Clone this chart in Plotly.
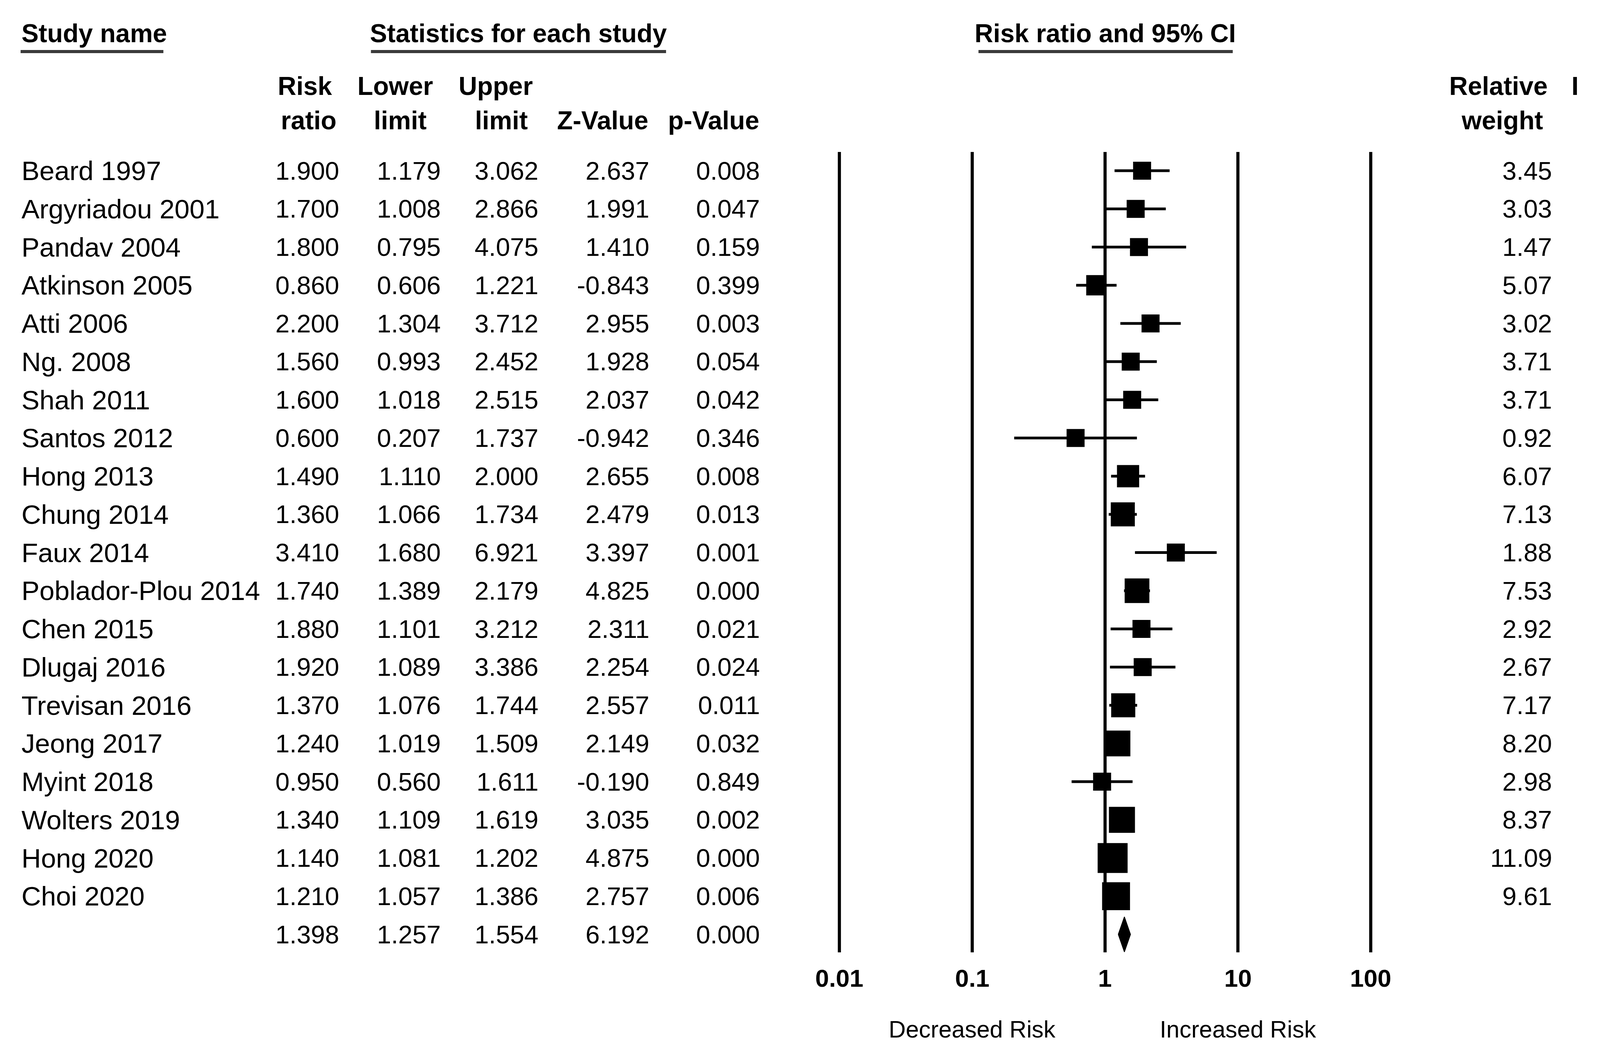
import numpy as np
import plotly.graph_objects as go

# ---------------- data ----------------
studies = ["Beard 1997", "Argyriadou 2001", "Pandav 2004", "Atkinson 2005", "Atti 2006",
           "Ng. 2008", "Shah 2011", "Santos 2012", "Hong 2013", "Chung 2014", "Faux 2014",
           "Poblador-Plou 2014", "Chen 2015", "Dlugaj 2016", "Trevisan 2016", "Jeong 2017",
           "Myint 2018", "Wolters 2019", "Hong 2020", "Choi 2020"]
risk_ratio = [1.900, 1.700, 1.800, 0.860, 2.200, 1.560, 1.600, 0.600, 1.490, 1.360, 3.410,
              1.740, 1.880, 1.920, 1.370, 1.240, 0.950, 1.340, 1.140, 1.210]
lower_limit = [1.179, 1.008, 0.795, 0.606, 1.304, 0.993, 1.018, 0.207, 1.110, 1.066, 1.680,
               1.389, 1.101, 1.089, 1.076, 1.019, 0.560, 1.109, 1.081, 1.057]
upper_limit = [3.062, 2.866, 4.075, 1.221, 3.712, 2.452, 2.515, 1.737, 2.000, 1.734, 6.921,
               2.179, 3.212, 3.386, 1.744, 1.509, 1.611, 1.619, 1.202, 1.386]
z_value = [2.637, 1.991, 1.410, -0.843, 2.955, 1.928, 2.037, -0.942, 2.655, 2.479, 3.397,
           4.825, 2.311, 2.254, 2.557, 2.149, -0.190, 3.035, 4.875, 2.757]
p_value = [0.008, 0.047, 0.159, 0.399, 0.003, 0.054, 0.042, 0.346, 0.008, 0.013, 0.001,
           0.000, 0.021, 0.024, 0.011, 0.032, 0.849, 0.002, 0.000, 0.006]
rel_weight = [3.45, 3.03, 1.47, 5.07, 3.02, 3.71, 3.71, 0.92, 6.07, 7.13, 1.88,
              7.53, 2.92, 2.67, 7.17, 8.20, 2.98, 8.37, 11.09, 9.61]

summary_rr = 1.398
summary_lower = 1.257
summary_upper = 1.554
summary_z = 6.192
summary_p = 0.000

tick_values = [0.01, 0.1, 1, 10, 100]
tick_labels = ["0.01", "0.1", "1", "10", "100"]

# ---------------- layout geometry (reference-picture pixels) ----------------
W, H = 4348, 2711
S = 0.96                            # size factor for px-sized items (fonts, markers)
ROW0, ROWH = 437.0, 97.75           # pixel centre of first row, row pitch
ONE_PX, DECADE_PX = 3003.0, 361.0   # pixel position of RR=1, pixels per decade
FONT = "Liberation Sans, Arial, Helvetica, sans-serif"
FS_NAME, FS_NUM, FS_HEAD, FS_TICK, FS_NOTE = 72, 68, 68.5, 66, 63


def row_of(py):
    return (py - ROW0) / ROWH


def pxx(x):
    return x / W


n = len(studies)
rows = list(range(n))
summary_row = n

fig = go.Figure()

# confidence-interval whiskers
ci_x, ci_y = [], []
for i in rows:
    ci_x += [lower_limit[i], upper_limit[i], None]
    ci_y += [i, i, None]
fig.add_trace(go.Scatter(x=ci_x, y=ci_y, mode="lines",
                         line=dict(color="black", width=7), hoverinfo="skip",
                         showlegend=False))

# weighted squares
sizes = [S * max(48.0, 24.0 * np.sqrt(w)) for w in rel_weight]
fig.add_trace(go.Scatter(x=risk_ratio, y=rows, mode="markers",
                         marker=dict(symbol="square", size=sizes, color="black",
                                     opacity=1, line=dict(width=0)),
                         showlegend=False))

# summary diamond
dh = 0.46
fig.add_trace(go.Scatter(
    x=[summary_lower, summary_rr, summary_upper, summary_rr, summary_lower],
    y=[summary_row, summary_row - dh, summary_row, summary_row + dh, summary_row],
    mode="lines", fill="toself", fillcolor="black",
    line=dict(color="black", width=2), showlegend=False))

# vertical reference lines
shapes = []
for t in tick_values:
    shapes.append(dict(type="line", xref="x", yref="y", x0=t, x1=t,
                       y0=row_of(389), y1=row_of(2438), layer="below",
                       line=dict(color="black", width=8)))

# header underlines
for x0, x1 in [(56, 444), (1008, 1810), (2659, 3350)]:
    shapes.append(dict(type="line", xref="paper", yref="y", x0=pxx(x0), x1=pxx(x1),
                       y0=row_of(132), y1=row_of(132),
                       line=dict(color="#3a3a3a", width=8)))

ann = []


def add_text(text, x, y, xanchor="center", size=FS_NAME, bold=False, xref="paper"):
    ann.append(dict(text=("<b>%s</b>" % text) if bold else text,
                    x=x, y=y, xref=xref, yref="y", xanchor=xanchor, yanchor="middle",
                    showarrow=False, font=dict(family=FONT, size=S * size, color="black")))


# headers
add_text("Study name", pxx(56), row_of(85), "left", FS_HEAD, bold=True)
add_text("Statistics for each study", pxx(1409), row_of(85), "center", FS_HEAD, bold=True)
add_text("Risk ratio and 95% CI", pxx(3004), row_of(85), "center", FS_HEAD, bold=True)

for txt, cx in [("Risk", 828), ("Lower", 1074), ("Upper", 1347), ("Relative", 4072)]:
    add_text(txt, pxx(cx), row_of(220), "center", FS_HEAD, bold=True)
add_text("I", pxx(4268), row_of(220), "left", FS_HEAD, bold=True)
for txt, cx in [("ratio", 839), ("limit", 1087), ("limit", 1362), ("Z-Value", 1638),
                ("p-Value", 1939), ("weight", 4082)]:
    add_text(txt, pxx(cx), row_of(308), "center", FS_HEAD, bold=True)

# table body
col_right = [924, 1200, 1465, 1766, 2067]
for i in rows:
    add_text(studies[i], pxx(56), i, "left", FS_NAME)
    vals = [risk_ratio[i], lower_limit[i], upper_limit[i], z_value[i], p_value[i]]
    for v, xr in zip(vals, col_right):
        add_text("%.3f" % v, pxx(xr), i, "right", FS_NUM)
    add_text("%.2f" % rel_weight[i], pxx(4220), i, "right", FS_NUM)

for v, xr in zip([summary_rr, summary_lower, summary_upper, summary_z, summary_p], col_right):
    add_text("%.3f" % v, pxx(xr), summary_row, "right", FS_NUM)

# axis tick labels (log axis -> annotation x in log10 units)
for t, lab in zip(tick_values, tick_labels):
    add_text(lab, np.log10(t), row_of(2504), "center", FS_TICK, bold=True, xref="x")

add_text("Decreased Risk", np.log10(0.1), row_of(2635), "center", FS_NOTE, xref="x")
add_text("Increased Risk", np.log10(10), row_of(2635), "center", FS_NOTE, xref="x")

x_left = -ONE_PX / DECADE_PX
x_right = (W - ONE_PX) / DECADE_PX

fig.update_layout(
    autosize=True, margin=dict(l=0, r=0, t=0, b=0, pad=0),
    paper_bgcolor="white", plot_bgcolor="white",
    xaxis=dict(type="log", range=[x_left, x_right], visible=False, domain=[0, 1]),
    yaxis=dict(range=[row_of(H), row_of(0)], visible=False, domain=[0, 1]),
    shapes=shapes, annotations=ann, showlegend=False,
)

fig.write_html("out.html", config={"displayModeBar": False},
               default_width="100vw", default_height="100vh",
               post_script="document.body.style.margin='0';document.body.style.overflow='hidden';")
